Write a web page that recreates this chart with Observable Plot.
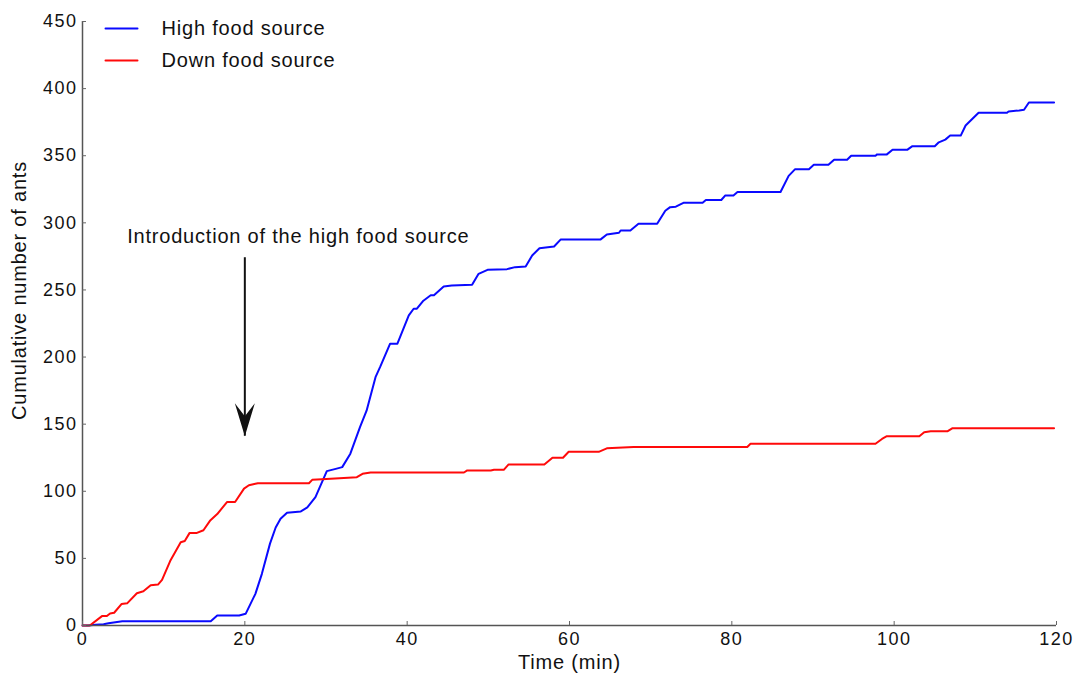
<!DOCTYPE html>
<html>
<head>
<meta charset="utf-8">
<script src="https://cdn.jsdelivr.net/npm/d3@7"></script>
<script src="https://cdn.jsdelivr.net/npm/@observablehq/plot@0.6"></script>
<style>
  body { margin: 0; background: #fff; }
  #chart svg { display: block; }
  #chart svg text { letter-spacing: 0.8px; }
  #chart svg g[aria-label="x-axis tick label"] text,
  #chart svg g[aria-label="y-axis tick label"] text { letter-spacing: 1.5px; }
</style>
</head>
<body>
<div id="chart"></div>
<script>
// ---- Data ----
const seriesNames = ["High food source", "Down food source"];
const seriesColors = ["#0a0aff", "#ff0a0a"];

const highTime = [0, 0.7, 1.6, 2.6, 3.2, 4.9, 15.8, 16.6, 19.3, 20.1, 21.3, 22.1, 23.1, 23.8, 24.4, 25.2, 26.9, 27.7, 28.7, 30.1, 31.2, 32, 33, 34.2, 35, 36.1, 36.7, 37.9, 38.8, 40.2, 40.8, 41.2, 42, 42.9, 43.3, 44.5, 45.5, 48, 48.8, 49.9, 52.3, 53.3, 54.6, 55.4, 56.3, 58.1, 58.9, 63.8, 64.6, 66.1, 66.3, 67.5, 68.5, 70.8, 71.8, 72.4, 73.1, 74.1, 76.4, 76.8, 78.7, 79.2, 80.2, 80.7, 86, 87, 87.8, 89.5, 90.1, 91.9, 92.6, 94.2, 94.7, 97.7, 97.9, 99.1, 99.8, 101.6, 102.2, 105, 105.5, 106.3, 106.9, 108.2, 108.8, 110.4, 113.9, 114.1, 115.4, 116, 116.6, 119.7];
const highCount = [0, 0, 0.5, 1, 1.7, 3.2, 3.2, 7.5, 7.5, 8.7, 23.6, 38.5, 61, 73, 79.5, 84, 85, 88, 95.6, 115, 116.7, 118, 128, 148, 160, 185, 193, 210, 210, 231, 236, 236, 242, 246, 246, 252.6, 253.3, 253.8, 262, 265, 265.5, 267, 267.5, 275.7, 281, 282.4, 287.5, 287.5, 291.3, 292.6, 294.3, 294.3, 299.3, 299.3, 309, 311.7, 312, 315, 315, 317, 317, 320.4, 320.4, 323, 323, 335, 340, 340, 343.2, 343.2, 347, 347, 350, 350, 351, 351, 354.4, 354.4, 357, 357, 360, 362, 365, 365, 372.5, 382, 382, 383, 383.7, 384.2, 389.7, 389.7];

const downTime = [0, 0.9, 2.4, 3.0, 3.4, 3.9, 4.8, 5.5, 6.7, 7.5, 8.4, 9.3, 9.8, 10.8, 12.1, 12.6, 13.2, 14.1, 14.9, 15.7, 16.6, 17.8, 18.8, 19.9, 20.5, 21.3, 21.6, 27.9, 28.3, 29.5, 33.8, 34.5, 35.5, 47, 47.4, 50.3, 50.7, 51.9, 52.5, 56.9, 57.9, 59.2, 59.9, 63.6, 64.6, 67.9, 81.9, 82.3, 97.7, 98.5, 99.1, 103.1, 103.7, 104.5, 106.6, 107.2, 119.7];
const downCount = [0, 0, 7, 7, 9, 9.5, 16, 16.5, 24, 25.5, 30, 30.5, 34, 48, 62, 63, 69, 69, 71, 78, 83, 92, 92, 102, 104.5, 105.6, 106, 106, 108.5, 109, 110.5, 113, 114, 114, 115.5, 115.5, 116, 116, 120, 120, 125, 125, 129.4, 129.4, 132, 133, 133, 135.4, 135.4, 139, 141, 141, 144, 144.8, 144.8, 147, 147];

const xTicks = [0, 20, 40, 60, 80, 100, 120];
const yTicks = [0, 50, 100, 150, 200, 250, 300, 350, 400, 450];
const xTitle = "Time (min)";
const yTitle = "Cumulative number of ants";

const annotationLabel = "Introduction of the high food source";
const annotationLabelTime = 5.5;
const annotationLabelCount = 290;
const arrowTime = 20;
const arrowTopCount = 274;
const arrowTipCount = 141;

// ---- Build tables ----
const rows = [
  ...highTime.map((t, i) => ({series: seriesNames[0], time: t, count: highCount[i]})),
  ...downTime.map((t, i) => ({series: seriesNames[1], time: t, count: downCount[i]}))
];
const arrowRow = [{time: arrowTime, top: arrowTopCount, tip: arrowTipCount}];
const labelRow = [{time: annotationLabelTime, count: annotationLabelCount, text: annotationLabel}];

const stealth = {
  draw(context, l) {
    context.moveTo(0, -l);
    context.lineTo(10, 0);
    context.lineTo(0, -l + 20);
    context.lineTo(-10, 0);
    context.closePath();
  }
};
const lineShape = {
  draw(context, l) {
    context.moveTo(0, 0);
    context.lineTo(0, -l);
  }
};

const legendMarks = seriesNames.flatMap((name, i) => [
  Plot.vector([name], {frameAnchor: "top-left", dx: 23, dy: 7 + 32 * i, rotate: 90, length: 32, anchor: "start", shape: lineShape, stroke: seriesColors[i], strokeWidth: 2}),
  Plot.text([name], {frameAnchor: "top-left", dx: 79, dy: 7 + 32 * i, textAnchor: "start", lineAnchor: "middle", fontSize: 20, fill: "#111"})
]);

const chart = Plot.plot({
  width: 1076,
  height: 674,
  marginLeft: 82,
  marginRight: 20,
  marginTop: 21,
  marginBottom: 49,
  x: {domain: [0, 120]},
  y: {domain: [0, 450]},
  color: {domain: seriesNames, range: seriesColors},
  style: {fontFamily: "'Liberation Sans', Arial, sans-serif", color: "#111", background: "#fff"},
  marks: [
    Plot.line(rows, {x: "time", y: "count", z: "series", stroke: "series", strokeWidth: 2}),
    Plot.ruleX([0], {stroke: "#555", strokeWidth: 1.5}),
    Plot.ruleY([0], {stroke: "#555", strokeWidth: 1.5}),
    Plot.axisX(xTicks, {tickSize: -4, tickPadding: 11, fontSize: 18, stroke: "#666", label: null}),
    Plot.axisY(yTicks, {tickSize: -4, tickPadding: 9, fontSize: 18, stroke: "#666", label: null}),
    Plot.text([xTitle], {frameAnchor: "bottom", dy: 37, textAnchor: "middle", lineAnchor: "middle", fontSize: 20, fill: "#111"}),
    Plot.text([yTitle], {frameAnchor: "left", dx: -63, dy: -33, rotate: -90, textAnchor: "middle", lineAnchor: "middle", fontSize: 20, fill: "#111"}),
    Plot.ruleX(arrowRow, {x: "time", y1: "top", y2: "tip", stroke: "#111", strokeWidth: 2}),
    Plot.vector(arrowRow, {x: "time", y: "tip", length: 33, rotate: 180, anchor: "end", shape: stealth, fill: "#111", stroke: "none"}),
    Plot.text(labelRow, {x: "time", y: "count", text: "text", textAnchor: "start", fontSize: 20, fill: "#111"}),
    ...legendMarks
  ]
});
document.getElementById("chart").appendChild(chart);
</script>
</body>
</html>
